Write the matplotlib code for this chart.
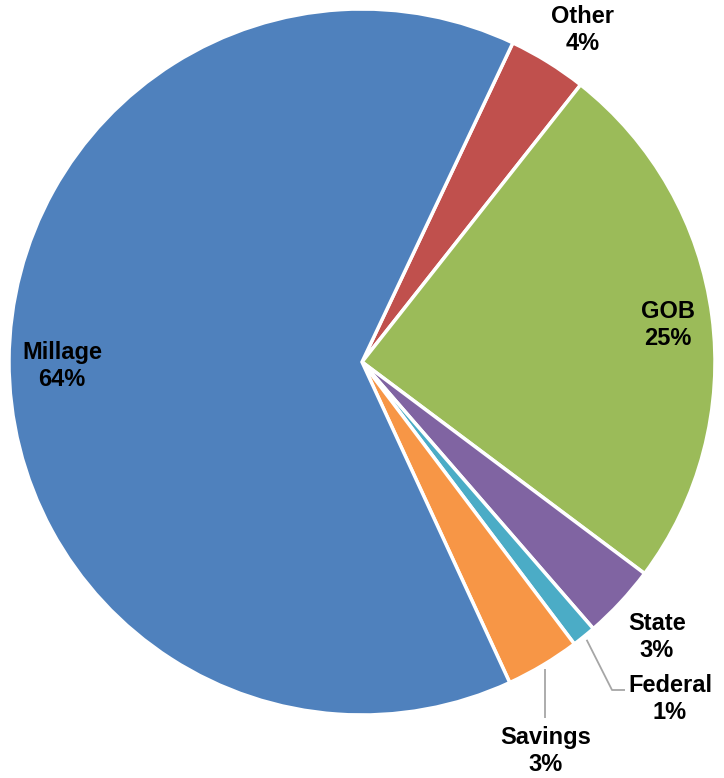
import matplotlib
matplotlib.use("Agg")
import matplotlib.pyplot as plt
import numpy as np

categories = ["Other", "GOB", "State", "Federal", "Savings", "Millage"]
values = [3.6, 24.6, 3.4, 1.1, 3.4, 63.9]
colors = ["#C0504D", "#9BBB59", "#8064A2", "#4BACC6", "#F79646", "#4F81BD"]

W, H = 724, 778
fig = plt.figure(figsize=(W / 100, H / 100), dpi=100)
ax = fig.add_axes([0, 0, 1, 1])
ax.set_xlim(0, W)
ax.set_ylim(0, H)
ax.set_aspect("equal")
ax.axis("off")


def px(x, y):
    return x, H - y


cx, cy = px(362, 362)
R = 353
wedges, _ = ax.pie(values, colors=colors, startangle=64.7, counterclock=False,
                   center=(cx, cy), radius=R, frame=True,
                   wedgeprops=dict(edgecolor="white", linewidth=2.5))
ax.set_xlim(0, W)
ax.set_ylim(0, H)
ax.axis("off")

total = sum(values)
label_pos = {
    "Other": (583, 30),
    "GOB": (668, 325),
    "State": (657, 637),
    "Federal": (670, 699),
    "Savings": (546, 751),
    "Millage": (62, 366),
}
font = dict(family=["Liberation Sans", "DejaVu Sans"], fontsize=17,
            fontweight="bold", color="black", ha="center", va="center",
            linespacing=1.22)
for cat, v in zip(categories, values):
    x, y = px(*label_pos[cat])
    ax.text(x, y, f"{cat}\n{round(v / total * 100):.0f}%", **font)

# leader lines
leaders = {
    "Savings": [(547, 718)],
    "Federal": [(612, 690), (625, 690)],
}
for cat, pts in leaders.items():
    w = wedges[categories.index(cat)]
    mid = np.deg2rad((w.theta1 + w.theta2) / 2)
    sx = cx + R * 1.012 * np.cos(mid)
    sy = cy + R * 1.012 * np.sin(mid)
    xs = [sx] + [px(*p)[0] for p in pts]
    ys = [sy] + [px(*p)[1] for p in pts]
    if cat == "Savings":
        xs[1] = sx
    ax.plot(xs, ys, color="#A6A6A6", linewidth=1.3, solid_capstyle="butt")

fig.savefig("out.png", dpi=100)
